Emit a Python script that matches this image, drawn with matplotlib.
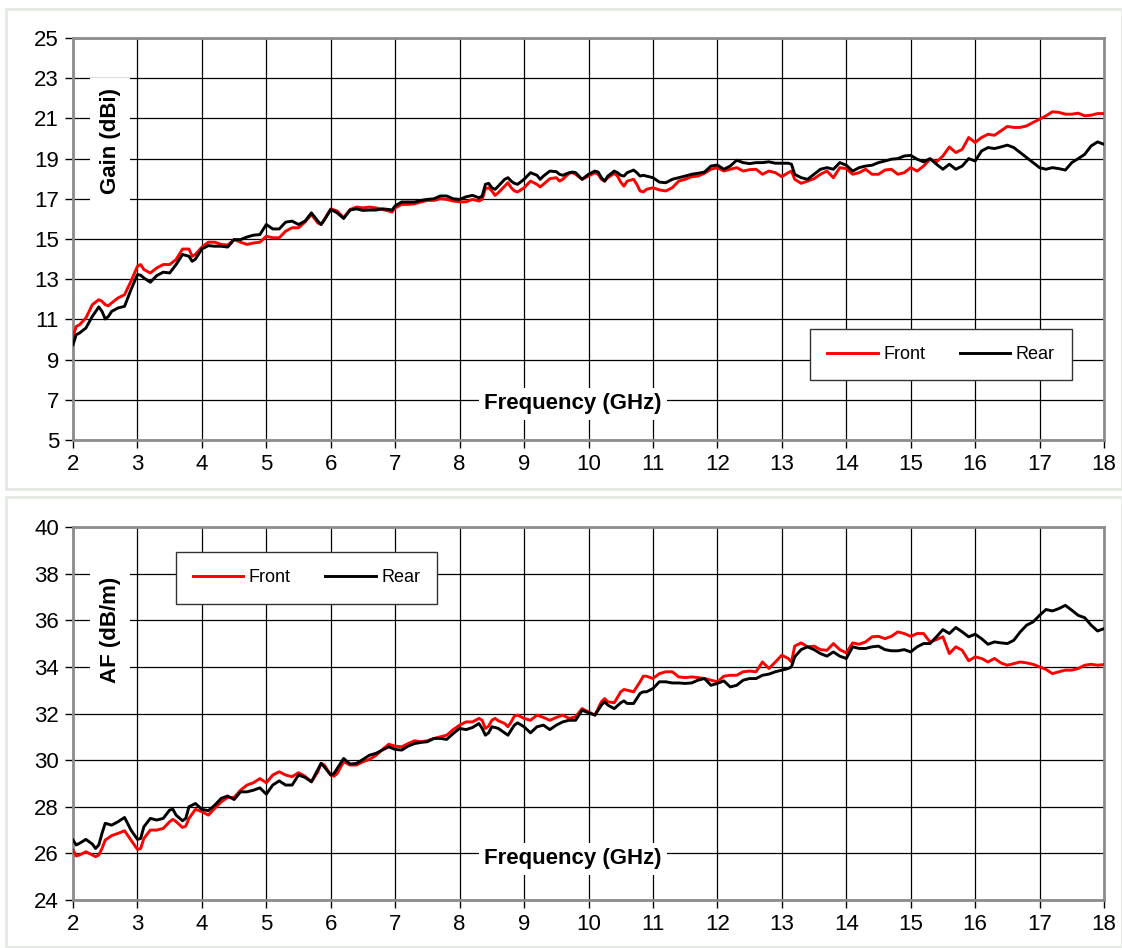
import matplotlib
matplotlib.use('Agg')
import matplotlib.pyplot as plt
from matplotlib.patches import Rectangle

plt.rcParams['font.family'] = ['Liberation Sans', 'DejaVu Sans']

# --- Gain (dBi) panel ---
gain_freq = [2.0, 2.05, 2.1, 2.2, 2.3, 2.4, 2.45, 2.5, 2.55, 2.6, 2.7, 2.8, 2.9,
             3.0, 3.05, 3.1, 3.2, 3.3, 3.4, 3.5, 3.6, 3.7, 3.8, 3.85, 3.9,
             4.0, 4.1, 4.2, 4.3, 4.4, 4.5, 4.6, 4.7, 4.8, 4.9,
             5.0, 5.1, 5.2, 5.3, 5.4, 5.5, 5.6, 5.7, 5.8, 5.85, 5.9,
             6.0, 6.1, 6.2, 6.3, 6.4, 6.5, 6.6, 6.7, 6.8, 6.9, 6.95,
             7.0, 7.1, 7.2, 7.3, 7.4, 7.5, 7.6, 7.7, 7.8, 7.9,
             8.0, 8.1, 8.2, 8.3, 8.35, 8.4, 8.45, 8.5, 8.55, 8.6, 8.7, 8.75, 8.8, 8.85, 8.9,
             9.0, 9.1, 9.2, 9.25, 9.3, 9.4, 9.5, 9.55, 9.6, 9.7, 9.75, 9.8, 9.9,
             10.0, 10.1, 10.15, 10.2, 10.25, 10.3, 10.4, 10.45, 10.5, 10.55, 10.6, 10.7, 10.75, 10.8, 10.85, 10.9,
             11.0, 11.1, 11.2, 11.3, 11.4, 11.5, 11.6, 11.7, 11.8, 11.9,
             12.0, 12.1, 12.2, 12.3, 12.4, 12.5, 12.6, 12.7, 12.8, 12.9,
             13.0, 13.1, 13.15, 13.2, 13.3, 13.4, 13.5, 13.6, 13.7, 13.8, 13.9,
             14.0, 14.1, 14.2, 14.3, 14.4, 14.5, 14.6, 14.7, 14.8, 14.9,
             15.0, 15.1, 15.2, 15.3, 15.4, 15.5, 15.6, 15.7, 15.8, 15.9,
             16.0, 16.1, 16.2, 16.3, 16.4, 16.5, 16.6, 16.7, 16.8, 16.9,
             17.0, 17.1, 17.2, 17.3, 17.4, 17.5, 17.6, 17.7, 17.8, 17.9,
             18.0]

gain_front = [10.15, 10.65, 10.73, 11.07, 11.73, 11.98, 11.9, 11.73, 11.68, 11.82, 12.07, 12.23, 12.9,
              13.64, 13.73, 13.48, 13.31, 13.56, 13.73, 13.73, 13.98, 14.5, 14.5, 14.14, 14.23,
              14.6, 14.84, 14.84, 14.73, 14.7, 14.97, 14.84, 14.73, 14.8, 14.84,
              15.14, 15.06, 15.06, 15.39, 15.56, 15.56, 15.84, 16.22, 15.8, 15.72, 15.97,
              16.5, 16.39, 16.06, 16.47, 16.59, 16.55, 16.59, 16.55, 16.47, 16.39, 16.34,
              16.55, 16.72, 16.72, 16.75, 16.84, 16.92, 16.92, 17.0, 16.97, 16.89,
              16.85, 16.85, 16.97, 16.89, 16.97, 17.5, 17.55, 17.39, 17.17, 17.3, 17.63, 17.8, 17.55, 17.39, 17.34,
              17.55, 17.88, 17.72, 17.59, 17.72, 18.0, 18.05, 17.88, 17.97, 18.27, 18.3, 18.22, 17.97,
              18.13, 18.3, 18.22, 17.97, 17.88, 18.05, 18.27, 18.13, 17.83, 17.63, 17.88, 17.97, 17.72, 17.39, 17.34, 17.47,
              17.55, 17.44, 17.39, 17.55, 17.88, 17.97, 18.1, 18.13, 18.27, 18.47,
              18.55, 18.38, 18.47, 18.55, 18.38, 18.45, 18.47, 18.22, 18.38, 18.3,
              18.1, 18.3, 18.38, 17.97, 17.77, 17.88, 18.0, 18.22, 18.38, 18.05, 18.55,
              18.5, 18.22, 18.3, 18.47, 18.22, 18.22, 18.43, 18.47, 18.22, 18.3,
              18.55, 18.38, 18.63, 18.97, 18.84, 19.13, 19.58, 19.3, 19.46, 20.05,
              19.8, 20.05, 20.21, 20.16, 20.38, 20.6, 20.55, 20.55, 20.63, 20.8,
              20.96, 21.13, 21.33, 21.3, 21.21, 21.21, 21.26, 21.13, 21.16, 21.24,
              21.24]

gain_rear = [9.74, 10.24, 10.32, 10.57, 11.15, 11.62, 11.4, 11.02, 11.15, 11.4, 11.57, 11.65, 12.48,
             13.23, 13.2, 13.06, 12.85, 13.18, 13.35, 13.31, 13.73, 14.23, 14.14, 13.89, 14.0,
             14.5, 14.67, 14.64, 14.64, 14.6, 14.97, 14.97, 15.1, 15.19, 15.22,
             15.72, 15.5, 15.5, 15.84, 15.89, 15.72, 15.89, 16.3, 15.89, 15.72, 15.94,
             16.47, 16.3, 16.02, 16.44, 16.5, 16.42, 16.44, 16.44, 16.5, 16.47, 16.44,
             16.65, 16.84, 16.84, 16.84, 16.92, 16.97, 17.0, 17.14, 17.14, 17.0,
             16.97, 17.1, 17.17, 17.05, 17.14, 17.72, 17.77, 17.55, 17.47, 17.63, 17.97, 18.05, 17.88, 17.77, 17.72,
             17.97, 18.3, 18.17, 17.97, 18.13, 18.38, 18.35, 18.22, 18.17, 18.3, 18.33, 18.3, 17.97,
             18.22, 18.38, 18.33, 18.05, 17.88, 18.13, 18.38, 18.3, 18.17, 18.13, 18.3, 18.43, 18.3, 18.13, 18.17, 18.13,
             18.05, 17.83, 17.8, 17.97, 18.05, 18.13, 18.22, 18.27, 18.33, 18.63,
             18.68, 18.47, 18.63, 18.92, 18.8, 18.75, 18.8, 18.8, 18.84, 18.77,
             18.77, 18.77, 18.72, 18.22, 18.05, 17.97, 18.22, 18.47, 18.55, 18.47, 18.8,
             18.67, 18.38, 18.55, 18.63, 18.67, 18.8, 18.88, 18.97, 19.0, 19.13,
             19.16, 18.97, 18.84, 19.0, 18.72, 18.47, 18.72, 18.47, 18.63, 19.0,
             18.88, 19.38, 19.55, 19.5, 19.58, 19.67, 19.55, 19.3, 19.05, 18.8,
             18.55, 18.47, 18.55, 18.5, 18.43, 18.8, 19.0, 19.21, 19.63, 19.83,
             19.71]

# --- AF (dB/m) panel ---
af_freq = [2.0, 2.05, 2.1, 2.2, 2.3, 2.35, 2.4, 2.45, 2.5, 2.6, 2.7, 2.8, 2.9,
           3.0, 3.05, 3.1, 3.2, 3.3, 3.4, 3.5, 3.55, 3.6, 3.7, 3.75, 3.8, 3.9,
           4.0, 4.1, 4.2, 4.3, 4.4, 4.5, 4.6, 4.7, 4.8, 4.9,
           5.0, 5.1, 5.2, 5.3, 5.4, 5.5, 5.6, 5.7, 5.8, 5.85, 5.9,
           6.0, 6.05, 6.1, 6.2, 6.3, 6.4, 6.5, 6.6, 6.7, 6.8, 6.9,
           7.0, 7.1, 7.2, 7.3, 7.4, 7.5, 7.6, 7.7, 7.8, 7.9,
           8.0, 8.1, 8.2, 8.3, 8.35, 8.4, 8.45, 8.5, 8.55, 8.6, 8.7, 8.75, 8.8, 8.85, 8.9,
           9.0, 9.1, 9.2, 9.3, 9.4, 9.5, 9.6, 9.7, 9.8, 9.9,
           10.0, 10.1, 10.2, 10.25, 10.3, 10.4, 10.5, 10.55, 10.6, 10.7, 10.8, 10.85, 10.9,
           11.0, 11.1, 11.2, 11.3, 11.4, 11.5, 11.6, 11.7, 11.8, 11.9,
           12.0, 12.1, 12.2, 12.3, 12.4, 12.5, 12.6, 12.7, 12.8, 12.9,
           13.0, 13.1, 13.15, 13.2, 13.3, 13.4, 13.5, 13.6, 13.7, 13.8, 13.9,
           14.0, 14.1, 14.2, 14.3, 14.4, 14.5, 14.6, 14.7, 14.8, 14.9,
           15.0, 15.1, 15.2, 15.3, 15.4, 15.5, 15.6, 15.7, 15.8, 15.9,
           16.0, 16.1, 16.2, 16.3, 16.4, 16.5, 16.6, 16.7, 16.8, 16.9,
           17.0, 17.1, 17.2, 17.3, 17.4, 17.5, 17.6, 17.7, 17.8, 17.9,
           18.0]

af_front = [26.14, 25.89, 25.93, 26.07, 25.93, 25.86, 25.93, 26.21, 26.57, 26.76, 26.86, 26.97, 26.57,
            26.17, 26.21, 26.64, 27.0, 27.0, 27.07, 27.36, 27.46, 27.36, 27.11, 27.17, 27.5, 27.89,
            27.79, 27.64, 27.93, 28.21, 28.4, 28.4, 28.71, 28.93, 29.03, 29.21,
            29.03, 29.36, 29.5, 29.36, 29.29, 29.46, 29.31, 29.07, 29.5, 29.86, 29.79,
            29.36, 29.31, 29.43, 29.93, 29.79, 29.79, 29.93, 30.03, 30.2, 30.45, 30.68,
            30.6, 30.57, 30.71, 30.83, 30.79, 30.83, 30.93, 31.0, 31.07, 31.31,
            31.5, 31.64, 31.64, 31.79, 31.71, 31.36, 31.46, 31.71, 31.79, 31.69, 31.57, 31.43, 31.64, 31.89, 31.93,
            31.79, 31.71, 31.93, 31.83, 31.71, 31.83, 31.93, 31.79, 31.86, 32.21,
            32.07, 31.93, 32.5, 32.64, 32.5, 32.46, 32.93, 33.03, 33.0, 32.93, 33.36, 33.6, 33.6,
            33.5, 33.71, 33.79, 33.79, 33.57, 33.54, 33.57, 33.54, 33.5, 33.43,
            33.36, 33.6, 33.64, 33.64, 33.79, 33.82, 33.79, 34.21, 33.93, 34.21,
            34.5, 34.36, 34.21, 34.89, 35.03, 34.86, 34.89, 34.74, 34.71, 35.0, 34.74,
            34.6, 35.03, 34.97, 35.07, 35.29, 35.31, 35.21, 35.31, 35.5, 35.43,
            35.31, 35.43, 35.43, 35.07, 35.17, 35.29, 34.57, 34.86, 34.71, 34.26,
            34.43, 34.36, 34.21, 34.36, 34.17, 34.07, 34.14, 34.21, 34.17, 34.11,
            34.0, 33.89, 33.71, 33.79, 33.86, 33.86, 33.93, 34.07, 34.11, 34.07,
            34.1]

af_rear = [26.57, 26.36, 26.43, 26.6, 26.4, 26.21, 26.36, 26.86, 27.29, 27.21, 27.36, 27.54, 27.0,
           26.6, 26.64, 27.14, 27.5, 27.43, 27.5, 27.86, 27.89, 27.64, 27.4, 27.5, 28.0, 28.14,
           27.89, 27.83, 28.07, 28.36, 28.46, 28.31, 28.64, 28.64, 28.71, 28.81,
           28.54, 28.93, 29.11, 28.93, 28.93, 29.36, 29.26, 29.07, 29.6, 29.86, 29.71,
           29.36, 29.43, 29.64, 30.07, 29.83, 29.86, 30.03, 30.21, 30.29, 30.43, 30.57,
           30.46, 30.43, 30.6, 30.71, 30.76, 30.79, 30.93, 30.93, 30.89, 31.14,
           31.36, 31.31, 31.4, 31.57, 31.36, 31.07, 31.17, 31.43, 31.4, 31.36, 31.17, 31.07, 31.29, 31.5, 31.6,
           31.43, 31.17, 31.43, 31.5, 31.31, 31.5, 31.64, 31.71, 31.71, 32.14,
           32.03, 31.93, 32.36, 32.5, 32.36, 32.21, 32.46, 32.54, 32.43, 32.43, 32.86, 32.93, 32.93,
           33.07, 33.36, 33.36, 33.31, 33.31, 33.29, 33.31, 33.43, 33.5, 33.21,
           33.29, 33.4, 33.14, 33.21, 33.43, 33.5, 33.5, 33.64, 33.69, 33.79,
           33.86, 33.93, 34.0, 34.43, 34.74, 34.86, 34.74, 34.57, 34.46, 34.64, 34.46,
           34.36, 34.86, 34.79, 34.79, 34.86, 34.89, 34.74, 34.69, 34.69, 34.74,
           34.64, 34.86, 35.0, 35.0, 35.29, 35.6, 35.43, 35.69, 35.5, 35.29,
           35.4, 35.21, 34.97, 35.07, 35.03, 35.0, 35.14, 35.5, 35.79, 35.93,
           36.21, 36.46, 36.4, 36.5, 36.64, 36.43, 36.21, 36.11, 35.79, 35.54,
           35.64]

W, H = 1122, 948
fig = plt.figure(figsize=(W / 100, H / 100), dpi=100)

# chart area outlines
for y0, y1 in [(9, 489), (497, 947)]:
    fig.patches.append(Rectangle((6 / W, 1 - y1 / H), (W - 6) / W, (y1 - y0) / H,
                                 transform=fig.transFigure, fill=False,
                                 edgecolor='#e4e9e4', lw=2))

def pane(rect, x, front, rear, ylim, ylabel, ylab_y, xlab_y, leg_xy):
    ax = fig.add_axes(rect)
    ax.plot(x, front, color='#ff0000', lw=2.1, label='Front', zorder=3)
    ax.plot(x, rear, color='black', lw=2.1, label='Rear', zorder=3)
    ax.set_xlim(2, 18)
    ax.set_ylim(*ylim)
    ax.set_xticks(range(2, 19))
    ax.set_yticks(range(ylim[0], ylim[1] + 1, 2))
    ax.grid(True, color='black', lw=0.9)
    ax.set_axisbelow(True)
    for s in ax.spines.values():
        s.set_color('#8c8c8c')
        s.set_linewidth(2)
    ax.tick_params(labelsize=16, length=6, width=1, color='black', pad=4)
    ax.text(0.036, ylab_y, ylabel, transform=ax.transAxes, rotation=90,
            fontsize=16, fontweight='bold', ha='center', va='center',
            bbox=dict(facecolor='white', edgecolor='none', pad=7), zorder=4)
    ax.text(0.485, xlab_y, 'Frequency (GHz)', transform=ax.transAxes,
            fontsize=16, fontweight='bold', ha='center', va='center',
            bbox=dict(facecolor='white', edgecolor='none', pad=4), zorder=4)
    leg = ax.legend(loc='center', bbox_to_anchor=leg_xy, bbox_transform=fig.transFigure,
                    ncol=2, fontsize=13, frameon=True, fancybox=False,
                    edgecolor='#333333', handlelength=2.8, handletextpad=0.3,
                    columnspacing=1.9, borderpad=0.95, borderaxespad=0)
    leg.get_frame().set_linewidth(1)
    leg.get_frame().set_alpha(1)
    return ax

pane([73 / W, 1 - 440 / H, (1104 - 73) / W, (440 - 38) / H],
     gain_freq, gain_front, gain_rear, (5, 25), 'Gain (dBi)', 0.745, 0.09,
     (941 / W, 1 - 354.5 / H))
pane([73 / W, 1 - 900 / H, (1104 - 73) / W, (900 - 527) / H],
     af_freq, af_front, af_rear, (24, 40), 'AF (dB/m)', 0.725, 0.11,
     (306.5 / W, 1 - 578 / H))

fig.savefig('out.png', dpi=100)
